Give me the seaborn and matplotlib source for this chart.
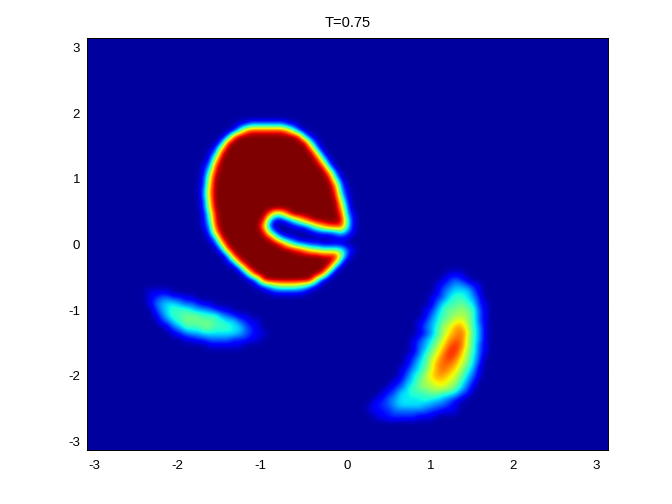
import numpy as np
import matplotlib
matplotlib.use("Agg")
import matplotlib.pyplot as plt
import matplotlib.transforms as mtrans
import seaborn as sns

# values, one hex digit per cell (0 = 0.0, f = 1.0)
n_rows = 69
n_cols = 87
ticks = [-3, -2, -1, 0, 1, 2, 3]
title = "T=0.75"

# big blob, first cell is row 14, column 18
blob_main = [
    "000000012444444210000000000",
    "00000016bddddddb72000000000",
    "00000" + "3c" + "f" * 10 + "d41" + "0000000",
    "0000" + "3d" + "f" * 12 + "e51" + "000000",
    "000" + "2a" + "f" * 14 + "c3" + "000000",
    "00" + "15e" + "f" * 15 + "a2" + "00000",
    "00" + "2a" + "f" * 16 + "e71" + "0000",
    "01" + "4d" + "f" * 17 + "d4" + "0000",
    "0" + "17e" + "f" * 18 + "b3" + "000",
    "0" + "29" + "f" * 19 + "e61" + "00",
    "0" + "2a" + "f" * 20 + "b3" + "00",
    "0" + "3b" + "f" * 20 + "d41" + "0",
    "0" + "3b" + "f" * 20 + "e61" + "0",
    "0" + "2a" + "f" * 21 + "920",
    "0" + "29" + "f" * 21 + "b30",
    "0" + "17e" + "f" * 8 + "c78c" + "f" * 8 + "d41",
    "0" + "16e" + "f" * 7 + "e511369ce" + "ffff" + "e61",
    "01" + "4d" + "f" * 7 + "b3" + "000" + "1236" + "9bddd" + "61",
    "00" + "3b" + "f" * 7 + "e720" + "0000" + "123346" + "31",
    "00" + "15e" + "f" * 7 + "e9421" + "000000" + "1110",
    "000" + "29" + "f" * 9 + "d96432211" + "1100",
    "0000" + "3c" + "f" * 10 + "edb9877" + "7631",
    "00000" + "3d" + "f" * 14 + "ee" + "e820",
    "00000" + "14d" + "f" * 15 + "b300",
    "0000000" + "3c" + "f" * 13 + "c3000",
    "00000000" + "3b" + "f" * 11 + "c30000",
    "000000000" + "15e" + "f" * 7 + "e6100000",
    "0000000000" + "13578887631" + "000000",
    "000000000000" + "1222221" + "00000000",
]

# small blob on the left, first cell is row 42, column 9
blob_left = [
    "011110000000000000000",
    "012332211000000000000",
    "013455433211000000000",
    "002456665443211000000",
    "001356677766643211000",
    "000235677777665532110",
    "000013466677666553210",
    "000001234455555543211",
    "000000011223333222110",
    "000000000001111110000",
]

# blob on the right, first cell is row 39, column 47
blob_right = [
    "000000000000011100000",
    "000000000000123210000",
    "000000000001234432100",
    "000000000001345553100",
    "000000000012356654200",
    "000000000013566765210",
    "000000000124677876310",
    "000000000135678886310",
    "000000001245789a86310",
    "00000000134689bb96410",
    "0000000012468abca6410",
    "0000000124579bcc96410",
    "000000013468acdc96310",
    "000000013579bddb86310",
    "00000012468acdca85300",
    "00000013569bccb975200",
    "00000124579bcba864100",
    "0000013568abba9753100",
    "00001245789aa98642000",
    "000123567889987531000",
    "001235566677665320000",
    "012345555655432100000",
    "122345555443321000000",
    "112233333322111000000",
    "011222221110000000000",
]


def cells(rows):
    return np.array([[int(c, 16) / 15 for c in row] for row in rows])


field = np.zeros((n_rows, n_cols))
for rows, r0, c0 in [(blob_main, 14, 18), (blob_left, 42, 9), (blob_right, 39, 47)]:
    vals = cells(rows)
    part = field[r0:r0 + vals.shape[0], c0:c0 + vals.shape[1]]
    part[:] = np.maximum(part, vals)

plt.rcParams["font.family"] = ["Liberation Sans", "DejaVu Sans"]

fig = plt.figure(figsize=(6.72, 5.04), dpi=100)
ax = fig.add_axes([87 / 672, 54 / 504, 521 / 672, 412 / 504])

# vmin below zero because the background is not the very bottom of jet
sns.heatmap(field, cmap="jet", vmin=-0.03, vmax=1, cbar=False, ax=ax)
mesh = ax.collections[0]
# the reference is smooth, so show the same cells with data interpolation on top
ax.imshow(field, cmap=mesh.get_cmap(), norm=mesh.norm, aspect="auto",
          extent=(0, n_cols, n_rows, 0), interpolation="bicubic",
          interpolation_stage="data", zorder=2)
ax.set_xlim(0, n_cols)
ax.set_ylim(n_rows, 0)

ax.set_xticks([n_cols * (t + np.pi) / (2 * np.pi) for t in ticks])
ax.set_yticks([n_rows * (np.pi - t) / (2 * np.pi) for t in ticks])
ax.set_xticklabels([str(t) for t in ticks], rotation=0)
ax.set_yticklabels([str(t) for t in ticks], rotation=0)
ax.tick_params(direction="in", length=3.6, width=0.6, labelsize=9.5,
               top=True, right=True, color="black")
ax.tick_params(axis="x", pad=7)
ax.tick_params(axis="y", pad=5)

# matlab lines the digit up with the tick, not the whole "-3"
for lab, t in zip(ax.get_xticklabels(), ticks):
    if t < 0:
        lab.set_transform(lab.get_transform() + mtrans.ScaledTranslation(-0.04, 0, fig.dpi_scale_trans))
for lab in ax.get_yticklabels():
    lab.set_transform(lab.get_transform() + mtrans.ScaledTranslation(0, -0.02, fig.dpi_scale_trans))

for s in ax.spines.values():
    s.set_visible(True)
    s.set_linewidth(0.7)
    s.set_color("black")
ax.set_title(title, fontsize=10.5, pad=8)

fig.savefig("out.png", dpi=100)
